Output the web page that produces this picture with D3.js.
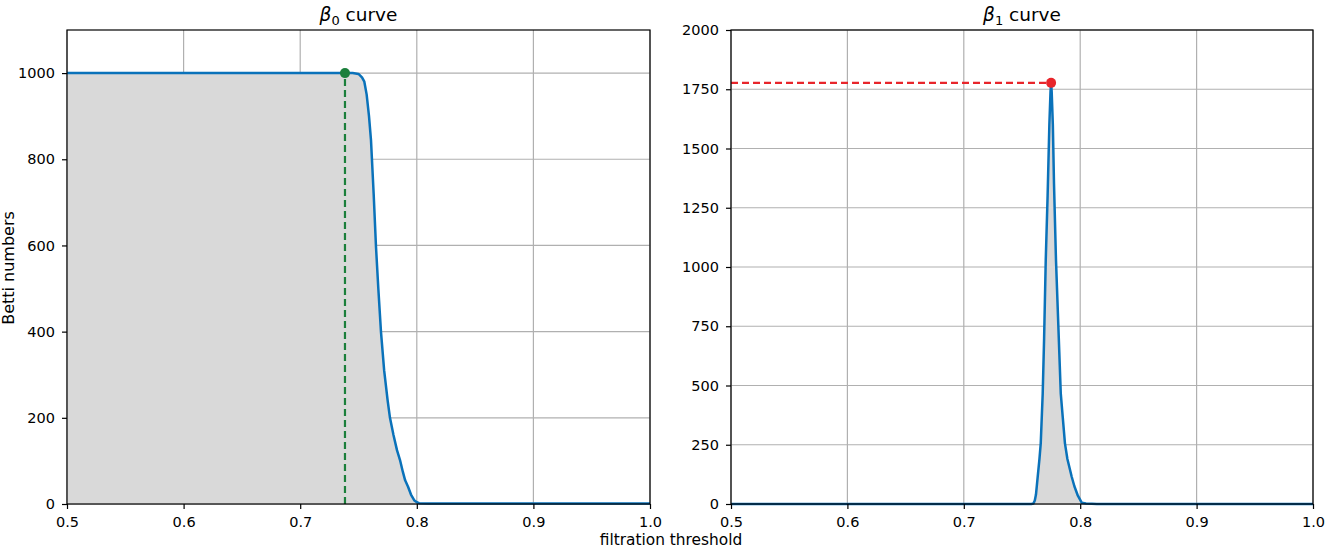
<!DOCTYPE html>
<html><head><meta charset="utf-8">
<script src="https://cdn.jsdelivr.net/npm/d3@7"></script>
<style>body{margin:0;background:#fff}svg{display:block;font-family:"DejaVu Sans",sans-serif}</style>
</head><body><svg id="c" width="1325" height="548"></svg>
<script>
// ---- data ----
const b0X = [0.5,0.745,0.750,0.753,0.755,0.757,0.759,0.7607,0.763,0.765,0.767,0.7693,0.772,0.775,0.777,0.780,0.783,0.7856,0.788,0.790,0.7925,0.795,0.798,0.800,0.802,0.81,0.85,0.9,0.95,1.0];
const b0Y = [1000,1000,998,990,980,950,900,845,720,597,500,399,310,240,200,160,125,102,75,55,40,22,8,4,2,1,1,1,1,1];
const b1X = [0.5,0.758,0.7598,0.761,0.762,0.7635,0.765,0.7661,0.7678,0.769,0.7704,0.772,0.7735,0.7745,0.775,0.7755,0.7765,0.7775,0.7792,0.781,0.7833,0.785,0.7869,0.789,0.7927,0.795,0.798,0.8014,0.805,0.81,0.8143,0.85,1.0];
const b1Y = [0,0,2,15,40,115,190,256,467,700,1029,1300,1600,1740,1777,1740,1600,1350,1029,782,467,367,256,190,115,75,35,5,2,1,0,0,0];
const b0Marker = {x:0.7384, y:1000};
const b1Marker = {x:0.775, y:1777};
const xTicks = [0.5,0.6,0.7,0.8,0.9,1.0];
const b0YTicks = [0,200,400,600,800,1000];
const b1YTicks = [0,250,500,750,1000,1250,1500,1750,2000];
const titles = ["β", "0", " curve", "β", "1", " curve"];

const svg = d3.select("#c");
const blue = "#0a72ba", fill = "#d9d9d9", grid = "#b0b0b0";

function panel(opt){
  const x = d3.scaleLinear().domain([0.5,1.0]).range([opt.left, opt.right]);
  const y = d3.scaleLinear().domain([0, opt.ymax]).range([504, 30]);
  const g = svg.append("g");
  g.selectAll(".gx").data(xTicks).join("line")
    .attr("x1",d=>x(d)).attr("x2",d=>x(d)).attr("y1",30).attr("y2",504)
    .attr("stroke",grid).attr("stroke-width",1.2);
  g.selectAll(".gy").data(opt.yTicks).join("line")
    .attr("x1",opt.left).attr("x2",opt.right).attr("y1",d=>y(d)).attr("y2",d=>y(d))
    .attr("stroke",grid).attr("stroke-width",1.2);
  const pts = opt.xs.map((v,i)=>[v,opt.ys[i]]);
  g.append("path").datum(pts)
    .attr("d", d3.area().x(d=>x(d[0])).y0(y(0)).y1(d=>y(d[1])))
    .attr("fill",fill);
  g.append("path").datum(pts)
    .attr("d", d3.line().x(d=>x(d[0])).y(d=>y(d[1])))
    .attr("fill","none").attr("stroke",blue).attr("stroke-width",2.5).attr("stroke-linejoin","round");
  if(opt.vertical){
    g.append("line").attr("x1",x(opt.marker.x)).attr("x2",x(opt.marker.x))
      .attr("y1",y(0)).attr("y2",y(opt.marker.y))
      .attr("stroke",opt.mcolor).attr("stroke-width",2.2).attr("stroke-dasharray","7,4");
  } else {
    g.append("line").attr("x1",x(0.5)).attr("x2",x(opt.marker.x))
      .attr("y1",y(opt.marker.y)).attr("y2",y(opt.marker.y))
      .attr("stroke",opt.mcolor).attr("stroke-width",2.2).attr("stroke-dasharray","7,4");
  }
  g.append("circle").attr("cx",x(opt.marker.x)).attr("cy",y(opt.marker.y)).attr("r",5)
    .attr("fill",opt.mcolor);
  g.append("rect").attr("x",opt.left).attr("y",30).attr("width",opt.right-opt.left).attr("height",474)
    .attr("fill","none").attr("stroke","#000").attr("stroke-width",1.2);
  const ax = g.append("g").attr("transform","translate(0,504)")
    .call(d3.axisBottom(x).tickValues(xTicks).tickFormat(d3.format(".1f")).tickSize(5).tickPadding(8));
  const ay = g.append("g").attr("transform",`translate(${opt.left},0)`)
    .call(d3.axisLeft(y).tickValues(opt.yTicks).tickFormat(d3.format("d")).tickSize(5).tickPadding(7));
  [ax,ay].forEach(a=>{
    a.select(".domain").remove();
    a.selectAll("text").attr("font-size",14.5).attr("fill","#000").attr("font-family","DejaVu Sans");
    a.selectAll("line").attr("stroke","#000").attr("stroke-width",1.2);
  });
  const t = g.append("text").attr("x",(opt.left+opt.right)/2).attr("y",21)
    .attr("text-anchor","middle").attr("font-size",18.5).attr("fill","#000");
  t.append("tspan").attr("font-style","italic").text(opt.title[0]);
  t.append("tspan").attr("font-size",13).attr("dy",3.5).text(opt.title[1]);
  t.append("tspan").attr("dy",-3.5).text(opt.title[2]);
}

panel({left:67,right:650,ymax:1100,yTicks:b0YTicks,xs:b0X,ys:b0Y,marker:b0Marker,mcolor:"#1b7f3b",vertical:true,title:titles.slice(0,3)});
panel({left:731,right:1313,ymax:2000,yTicks:b1YTicks,xs:b1X,ys:b1Y,marker:b1Marker,mcolor:"#e8252b",vertical:false,title:titles.slice(3,6)});

svg.append("text").attr("x",671).attr("y",545).attr("text-anchor","middle")
  .attr("font-size",15.4).text("filtration threshold");
svg.append("text").attr("transform","translate(14,268) rotate(-90)").attr("text-anchor","middle")
  .attr("font-size",16).text("Betti numbers");
</script></body></html>
